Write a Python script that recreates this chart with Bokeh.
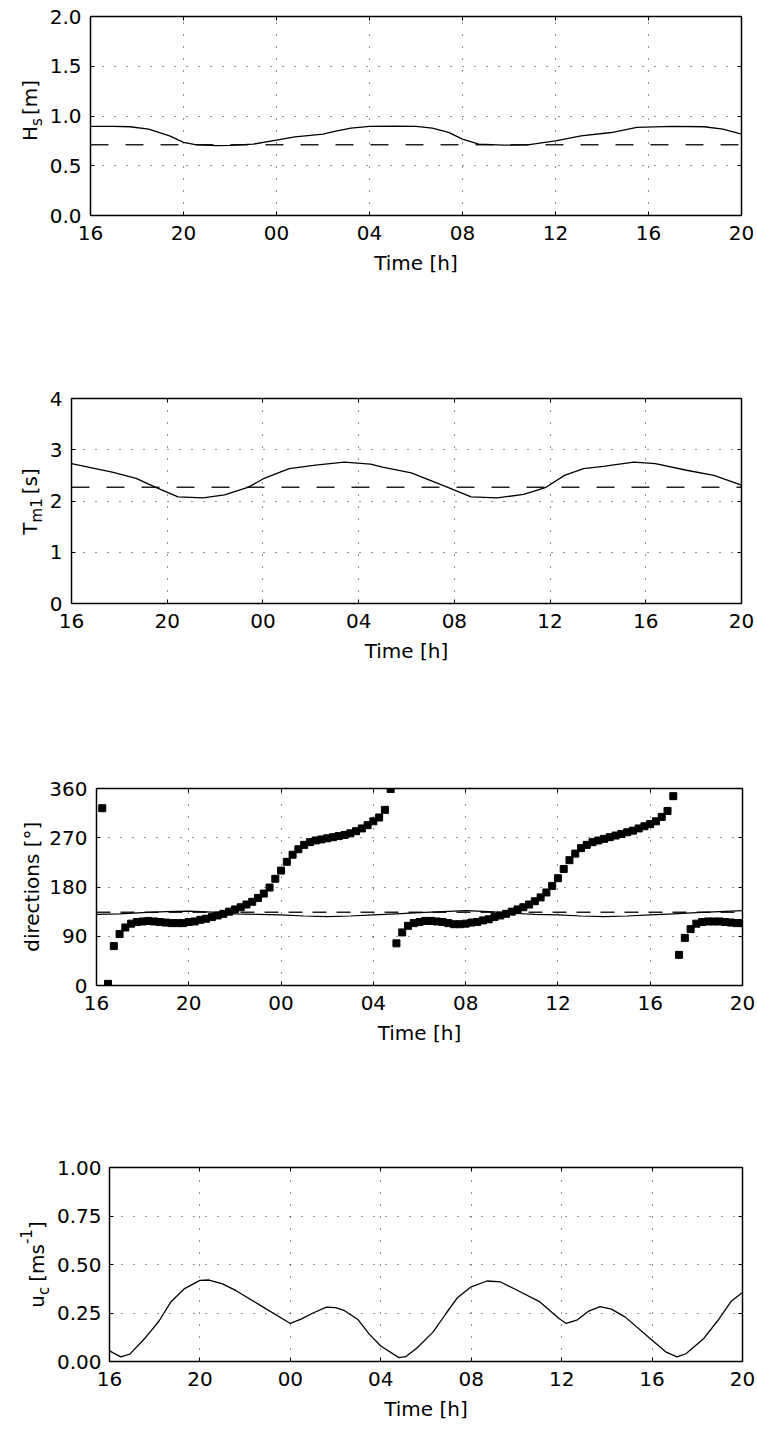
import math
from bokeh.plotting import figure
from bokeh.models import LinearAxis, FixedTicker, Range1d
from bokeh.layouts import column, row
from bokeh.core.properties import value
from bokeh.embed import file_html
from bokeh.resources import INLINE

# ---------------- data ----------------
x_ticks = [16, 20, 24, 28, 32, 36, 40, 44]
x_tick_labels = ["16", "20", "00", "04", "08", "12", "16", "20"]

hour_t = [16, 17, 18, 19, 20, 21, 22, 23, 24, 25, 26, 27, 28, 29, 30,
          31, 32, 33, 34, 35, 36, 37, 38, 39, 40, 41, 42, 43, 44]

hs_t = [16, 17, 17.7, 18.5, 19.4, 20, 20.5, 21.4, 22, 23, 24, 24.8, 26, 26.5, 27.2, 28,
        29, 30, 30.7, 31.4, 32, 32.7, 33.8, 34.8, 36, 37.1, 38.4, 39.5, 41, 42.4, 43.2, 44]
hs_vals = [0.895, 0.895, 0.892, 0.868, 0.80, 0.735, 0.712, 0.702, 0.705, 0.717, 0.757,
           0.79, 0.818, 0.845, 0.878, 0.895, 0.897, 0.895, 0.878, 0.835, 0.768, 0.717,
           0.707, 0.71, 0.751, 0.80, 0.834, 0.885, 0.895, 0.892, 0.868, 0.818]
hs_mean = 0.71
hs_ticks = [0, 0.5, 1.0, 1.5, 2.0]
hs_tick_labels = ["0.0", "0.5", "1.0", "1.5", "2.0"]

tm1_t = [16, 17.7, 18.7, 19.5, 20.45, 21.5, 22.4, 23.4, 24, 25.1, 26.2, 27.4, 28.5,
         29, 30.2, 31.7, 32.7, 33.8, 34.9, 35.8, 36.6, 37.4, 38.3, 39.5, 40.4, 41.7, 42.85, 44]
tm1_vals = [2.73, 2.565, 2.44, 2.27, 2.08, 2.06, 2.12, 2.27, 2.43, 2.63, 2.70, 2.76, 2.72,
            2.66, 2.55, 2.27, 2.08, 2.06, 2.13, 2.26, 2.50, 2.63, 2.68, 2.76, 2.73, 2.60,
            2.50, 2.31]
tm1_mean = 2.27
tm1_ticks = [0, 1, 2, 3, 4]
tm1_tick_labels = ["0", "1", "2", "3", "4"]

dir_t = [16 + 0.25 * k for k in range(1, 113)]
dir_vals = [324, 3, 72, 94, 106, 113, 116, 117, 118, 117, 116, 115, 114, 114, 114,
            116, 117, 120, 122, 125, 128, 131, 135, 139, 143, 148, 153, 160, 168,
            179, 195, 210, 226, 239, 249, 257, 262, 265, 267, 269, 271, 273, 275,
            278, 282, 287, 293, 300, 307, 321, 359,
            77, 97, 109, 114, 116, 118, 118, 117, 116, 114, 112, 112, 113, 115,
            116, 119, 121, 125, 128, 131, 135, 139, 143, 148, 154, 161, 170, 182,
            196, 213, 229, 241, 251, 257, 262, 265, 268, 271, 274, 277, 280, 283,
            287, 291, 295, 300, 308, 319, 346,
            56, 87, 103, 113, 116, 117, 117, 117, 116, 115, 114, 114]
dir_line_vals = [130, 131, 133, 135, 136, 134, 131, 130, 129, 127, 126, 127, 129, 131,
                 133, 135, 137, 135, 132, 130, 129, 127, 126, 127, 129, 131, 133, 135, 137]
dir_mean = 134
dir_ticks = [0, 90, 180, 270, 360]
dir_tick_labels = ["0", "90", "180", "270", "360"]

uc_t = [16, 16.5, 16.9, 17.6, 18.2, 18.7, 19.3, 20, 20.4, 21, 21.6, 22.8, 24, 24.5, 25,
        25.6, 26, 26.4, 27, 27.5, 28, 28.8, 29.1, 29.6, 30.3, 30.9, 31.4, 32, 32.7, 33.3,
        33.9, 35, 35.9, 36.2, 36.7, 37.2, 37.7, 38.2, 38.8, 39.9, 40.6, 41.1, 41.5, 42.3,
        42.9, 43.5, 44]
uc_vals = [0.055, 0.024, 0.038, 0.124, 0.21, 0.305, 0.374, 0.418, 0.42, 0.40, 0.365,
           0.28, 0.196, 0.22, 0.25, 0.28, 0.278, 0.262, 0.215, 0.14, 0.08, 0.02, 0.025,
           0.07, 0.15, 0.25, 0.33, 0.385, 0.415, 0.41, 0.375, 0.31, 0.22, 0.196, 0.215,
           0.26, 0.283, 0.27, 0.23, 0.12, 0.05, 0.024, 0.04, 0.12, 0.21, 0.31, 0.356]
uc_ticks = [0, 0.25, 0.5, 0.75, 1.0]
uc_tick_labels = ["0.00", "0.25", "0.50", "0.75", "1.00"]

# ---------------- styling helpers ----------------
FONT = "DejaVu Sans"
TICK_PX = "20px"
LABEL_PX = 20
SUB_PX = 15

# DejaVu Sans advance widths (per 1000 em)
WIDTHS = {'H': 752, 's': 521, ' ': 318, '[': 390, 'm': 974, ']': 390, 'T': 611, '1': 636,
          'u': 634, 'c': 550, '-': 361, 'd': 635, 'i': 278, 'r': 411, 'e': 615, 't': 392,
          'o': 612, 'n': 634, '°': 500}


def text_width(txt, size):
    return sum(WIDTHS.get(ch, 600) for ch in txt) * size / 1000.0


def make_fig(width, height, left, right, top, bottom, y_end, yticks, ylabels, ystand=9):
    p = figure(width=width, height=height, x_range=Range1d(16, 44), y_range=Range1d(0, y_end),
               output_backend="svg", toolbar_location=None,
               min_border_left=left, min_border_right=right,
               min_border_top=top, min_border_bottom=bottom)
    p.outline_line_color = "black"
    p.outline_line_width = 1.5
    p.outline_line_alpha = 1.0

    xa = p.xaxis[0]
    xa.ticker = FixedTicker(ticks=x_ticks)
    xa.major_label_overrides = {t: l for t, l in zip(x_ticks, x_tick_labels)}
    ya = p.yaxis[0]
    ya.ticker = FixedTicker(ticks=yticks)
    ya.major_label_overrides = {t: l for t, l in zip(yticks, ylabels)}
    for ax in (xa, ya):
        ax.axis_line_color = None
        ax.major_tick_in = 4
        ax.major_tick_out = 0
        ax.major_tick_line_color = "black"
        ax.major_tick_line_width = 1
        ax.minor_tick_line_color = None
        ax.major_label_text_font = FONT
        ax.major_label_text_font_size = TICK_PX
        ax.major_label_text_color = "black"
    xa.major_label_standoff = 10
    ya.major_label_standoff = ystand
    xa.axis_label = "Time [h]"
    xa.axis_label_text_font = FONT
    xa.axis_label_text_font_size = f"{LABEL_PX}px"
    xa.axis_label_text_font_style = "normal"
    xa.axis_label_text_color = "black"
    xa.axis_label_standoff = 8

    for loc, tks in (("above", x_ticks), ("right", yticks)):
        ax = LinearAxis(ticker=FixedTicker(ticks=tks))
        ax.major_label_overrides = {t: "" for t in tks}
        ax.major_label_text_font_size = "0px"
        ax.major_label_standoff = 0
        ax.axis_line_color = None
        ax.major_tick_in = 4
        ax.major_tick_out = 0
        ax.major_tick_line_color = "black"
        ax.minor_tick_line_color = None
        p.add_layout(ax, loc)

    p.xgrid.ticker = FixedTicker(ticks=x_ticks[1:-1])
    p.ygrid.ticker = FixedTicker(ticks=yticks[1:-1])
    for g in (p.xgrid, p.ygrid):
        g.grid_line_color = "black"
        g.grid_line_alpha = 0.85
        g.grid_line_width = 1
        g.grid_line_dash = "1 11"
    return p


def label_fig(width, height, top, bottom, parts, bx, cy):
    """Blank strip beside a panel holding its rotated y-axis title; its frame lines up
    with the panel's frame, and the ranges make data units equal canvas pixels.
    parts: (text, font px, baseline shift (+down), gap before)."""
    lf = figure(width=width, height=height, x_range=Range1d(0, width),
                y_range=Range1d(height - bottom, top), output_backend="svg",
                toolbar_location=None, min_border_left=0, min_border_right=0,
                min_border_top=top, min_border_bottom=bottom,
                x_axis_location=None, y_axis_location=None)
    lf.outline_line_color = None
    lf.xgrid.visible = False
    lf.ygrid.visible = False
    total = sum(g + text_width(t, s) for t, s, _, g in parts)
    y = cy + total / 2.0
    for txt, size, shift, gap in parts:
        y -= gap
        lf.text(x=[bx + shift], y=[y], text=[txt], angle=math.pi / 2,
                text_font=value(FONT), text_font_size=value(f"{size}px"),
                text_align="left", text_baseline="alphabetic", text_color="black")
        y -= text_width(txt, size)
    return lf


# ---------------- panel 1 : Hs ----------------
W1 = 46
p1 = make_fig(757 - W1, 300, 88 - W1, 16, 16, 85, 2.0, hs_ticks, hs_tick_labels)
p1.line(hour_t, [hs_mean] * len(hour_t), line_color="#222222", line_width=1.5, line_dash="18 17")
p1.line(hs_t, hs_vals, line_color="black", line_width=1.3)
l1 = label_fig(W1, 300, 16, 85, [("H", LABEL_PX, 0, 0), ("s", SUB_PX, 7, 0),
                                 ("[m]", LABEL_PX, 0, 3)], 29.5, 110)

# ---------------- panel 2 : Tm1 ----------------
W2 = 46
p2 = make_fig(757 - W2, 400, 69 - W2, 16, 98, 97, 4, tm1_ticks, tm1_tick_labels)
p2.line(hour_t, [tm1_mean] * len(hour_t), line_color="#222222", line_width=1.5, line_dash="18 17")
p2.line(tm1_t, tm1_vals, line_color="black", line_width=1.3)
l2 = label_fig(W2, 400, 98, 97, [("T", LABEL_PX, 0, 0), ("m1", SUB_PX, 7, 0),
                                 ("[s]", LABEL_PX, 0, 4)], 29.5, 201)

# ---------------- panel 3 : directions ----------------
W3 = 46
p3 = make_fig(757 - W3, 380, 94 - W3, 15, 88, 95, 360, dir_ticks, dir_tick_labels)
p3.line(hour_t, [dir_mean] * len(hour_t), line_color="#222222", line_width=1.5, line_dash="14 10")
p3.line(hour_t, dir_line_vals, line_color="black", line_width=1.2)
p3.scatter(dir_t, dir_vals, marker="square", size=7, color="black")
l3 = label_fig(W3, 380, 88, 95, [("directions [°]", LABEL_PX, 0, 0)], 31.5, 186)

# ---------------- panel 4 : uc ----------------
W4 = 53
p4 = make_fig(757 - W4, 349, 106 - W4, 15, 87, 68, 1.0, uc_ticks, uc_tick_labels, ystand=8)
p4.line(uc_t, uc_vals, line_color="black", line_width=1.3)
l4 = label_fig(W4, 349, 87, 68, [("u", LABEL_PX, 0, 0), ("c", SUB_PX, 7, 0),
                                 ("[ms", LABEL_PX, 0, 5), ("-1", SUB_PX, -11, 0),
                                 ("]", LABEL_PX, 0, 0)], 36, 184)

layout = column(row(l1, p1, spacing=0), row(l2, p2, spacing=0),
                row(l3, p3, spacing=0), row(l4, p4, spacing=0), spacing=0)
open("out.html", "w").write(file_html(layout, INLINE))
